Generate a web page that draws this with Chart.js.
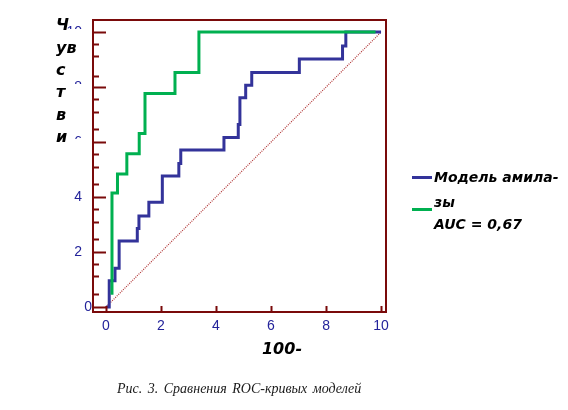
<!DOCTYPE html>
<html lang="ru">
<head>
  <meta charset="UTF-8" />
  <title>ROC</title>
  <script src="https://cdn.jsdelivr.net/npm/chart.js"></script>
  <style>
    body { margin: 0; background: #fff; }
    #wrap { position: relative; width: 568px; height: 410px; }
    canvas { position: absolute; left: 0; top: 0; }
    .lbl { position: absolute; font-family: "DejaVu Sans", sans-serif; font-weight: bold; font-style: italic; font-size: 14px; color: #000; white-space: nowrap; line-height: 1; }
    .swatch { position: absolute; height: 3px; width: 20px; }
    #caption { position: absolute; left: 117px; top: 381px; font-family: "Liberation Serif", serif; font-style: italic; font-size: 14px; word-spacing: 2px; color: #1a1a1a; }
  </style>
</head>
<body>
<div id="wrap">
  <canvas id="roc" width="568" height="410"></canvas>
  <div id="legend"></div>
  <div id="caption">Рис. 3. Сравнения ROC-кривых моделей</div>
</div>
<script>
// y-axis title, written one piece per line as in the figure
const yTitleLines = ['Ч', 'ув', 'с', 'т', 'в', 'и'];
const xTitle = '100-';

const xTicks = [0, 2, 4, 6, 8, 10];
const yTicks = [0, 2, 4, 6, 8, 10];
const yMinorTicks = [0.47, 1.13, 1.55, 2.46, 3.1, 3.55, 4.46, 5.1, 5.55, 6.46, 7.1, 7.55, 8.41, 9.13, 9.56];

// amylase model
const blueLabel = 'Модель амила-зы';
const blueX = [0, 0.12, 0.33, 0.48, 1.14, 1.2, 1.56, 2.05, 2.65, 2.72, 4.29, 4.81, 4.87, 5.08, 5.3, 7.03, 8.6, 8.72, 10];
const blueY = [0, 0.96, 1.41, 2.4, 2.86, 3.31, 3.81, 4.77, 5.22, 5.71, 6.17, 6.64, 7.61, 8.07, 8.53, 9.02, 9.49, 10, 10];

// second model
const greenLabel = 'AUC = 0,67';
const greenX = [0.22, 0.22, 0.42, 0.76, 1.21, 1.42, 2.51, 3.38, 9.8];
const greenY = [0.45, 4.15, 4.84, 5.58, 6.31, 7.77, 8.53, 10, 10];

const diagX = [0, 10];
const diagY = [0, 10];

const BLUE = '#33339a';
const GREEN = '#00b050';
const FRAME = '#7a0a0a';
const TICKTXT = '#23239a';

const pts = (xs, ys) => xs.map((x, i) => ({ x: x, y: ys[i] }));

// frame, inward ticks, y labels, titles
const decor = {
  id: 'decor',
  afterDraw(chart) {
    const { ctx, chartArea: a, scales } = chart;
    const sx = scales.x, sy = scales.y;
    ctx.save();
    ctx.strokeStyle = FRAME;
    ctx.lineWidth = 2;
    ctx.strokeRect(a.left, a.top, a.right - a.left, a.bottom - a.top);

    ctx.beginPath();
    yTicks.forEach(v => {
      const y = Math.round(sy.getPixelForValue(v)) + 0.5;
      ctx.moveTo(a.left, y); ctx.lineTo(a.left + 13, y);
    });
    yMinorTicks.forEach(v => {
      const y = Math.round(sy.getPixelForValue(v)) + 0.5;
      ctx.moveTo(a.left, y); ctx.lineTo(a.left + 6, y);
    });
    xTicks.forEach(v => {
      const x = Math.round(sx.getPixelForValue(v)) + 0.5;
      ctx.moveTo(x, a.bottom); ctx.lineTo(x, a.bottom - 6);
    });
    ctx.stroke();

    // y tick labels (the upper ones are half hidden behind the title)
    ctx.fillStyle = TICKTXT;
    ctx.font = '14px "Liberation Sans", Arial, sans-serif';
    ctx.textAlign = 'right';
    ctx.textBaseline = 'middle';
    yTicks.forEach(v => {
      const y = sy.getPixelForValue(v);
      const x = v === 0 ? a.left - 1 : a.left - 11;
      ctx.save();
      if (v > 4) {
        ctx.beginPath();
        ctx.rect(0, y - 9, a.left, 6);
        ctx.clip();
      }
      ctx.fillText(String(v), x, y);
      ctx.restore();
    });

    ctx.fillStyle = '#000';
    ctx.font = 'italic bold 16px "DejaVu Sans", sans-serif';
    ctx.textAlign = 'left';
    yTitleLines.forEach((t, i) => ctx.fillText(t, 56, 26 + i * 22.4));

    ctx.textAlign = 'center';
    ctx.fillText(xTitle, 282, 350);
    ctx.restore();
  }
};

new Chart(document.getElementById('roc'), {
  type: 'scatter',
  data: {
    datasets: [
      { label: greenLabel, data: pts(greenX, greenY), showLine: true, stepped: 'before',
        borderColor: GREEN, borderWidth: 3, pointRadius: 0, fill: false },
      { label: blueLabel, data: pts(blueX, blueY), showLine: true, stepped: 'before',
        borderColor: BLUE, borderWidth: 3, pointRadius: 0, fill: false },
      { label: 'diag', data: pts(diagX, diagY), showLine: true,
        borderColor: '#b03434', borderWidth: 1.2, borderDash: [1, 1.2], pointRadius: 0, fill: false }
    ]
  },
  options: {
    responsive: false,
    animation: false,
    devicePixelRatio: 1,
    layout: { padding: { left: 0, right: 182, top: 20, bottom: 0 } },
    plugins: { legend: { display: false }, tooltip: { enabled: false } },
    scales: {
      x: {
        type: 'linear', min: -0.47, max: 10.18,
        afterBuildTicks: s => { s.ticks = xTicks.map(v => ({ value: v })); },
        afterFit: s => { s.height = 98; },
        grid: { display: false, drawTicks: false },
        border: { display: false },
        ticks: { padding: 6, color: TICKTXT, font: { family: '"Liberation Sans", Arial, sans-serif', size: 14 } }
      },
      y: {
        type: 'linear', min: -0.18, max: 10.44,
        afterBuildTicks: s => { s.ticks = yTicks.map(v => ({ value: v })); },
        afterFit: s => { s.width = 93; },
        grid: { display: false, drawTicks: false },
        border: { display: false },
        ticks: { display: false }
      }
    }
  },
  plugins: [decor]
});

// legend as laid out in the figure
const legend = document.getElementById('legend');
const parts = blueLabel.split('-');
legend.innerHTML =
  '<div class="swatch" style="left:412px;top:176px;background:' + BLUE + '"></div>' +
  '<div class="lbl" style="left:434px;top:170px">' + parts[0] + '-</div>' +
  '<div class="lbl" style="left:434px;top:195px">' + parts[1] + '</div>' +
  '<div class="swatch" style="left:412px;top:208px;background:' + GREEN + '"></div>' +
  '<div class="lbl" style="left:434px;top:217px">' + greenLabel + '</div>';
</script>
</body>
</html>
